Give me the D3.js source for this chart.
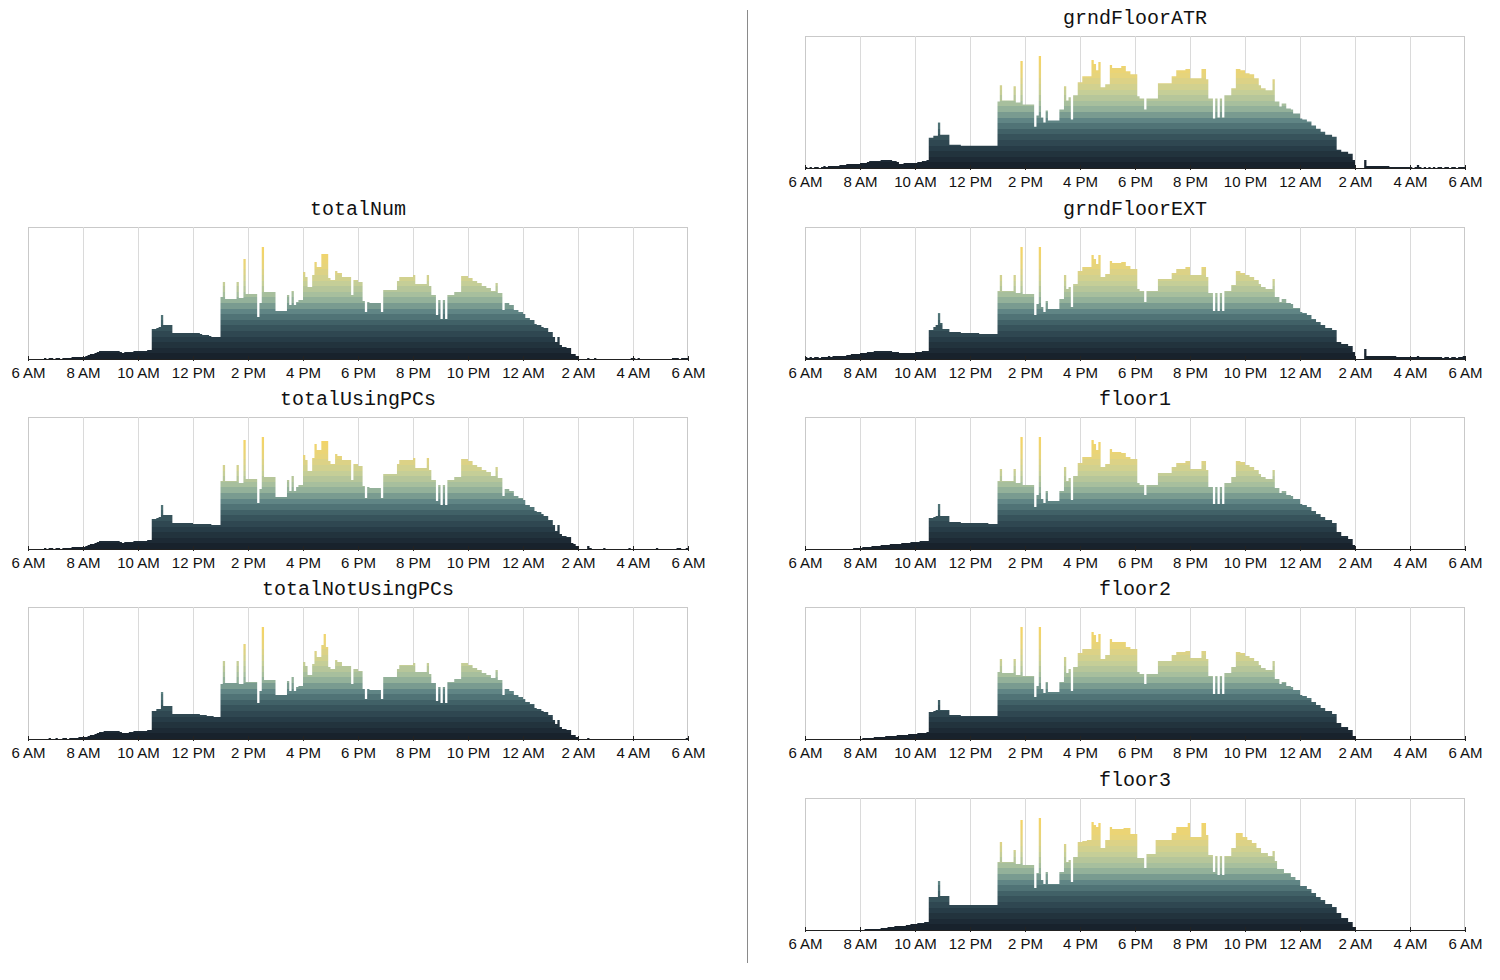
<!DOCTYPE html>
<html><head><meta charset="utf-8">
<script src="https://cdn.jsdelivr.net/npm/d3@7"></script>
<style>
html,body{margin:0;padding:0;background:#fff;}
svg{display:block;}
</style></head>
<body>
<svg id="chart" width="1500" height="980"></svg>
<script>
// ---- DATA (5-minute bins from 6 AM to 6 AM, 288 values per series) ----
const categories = ["totalNum","totalUsingPCs","totalNotUsingPCs","grndFloorATR","grndFloorEXT","floor1","floor2","floor3"];
const tickLabels = ["6 AM","8 AM","10 AM","12 PM","2 PM","4 PM","6 PM","8 PM","10 PM","12 AM","2 AM","4 AM","6 AM"];

const totalNum = [
0,0,0,0,0,0,0,1,0,1,1,0,1,1,0,1,1,1,1,2,2,2,2,2,
2,3,4,5,5,6,7,8,8,8,8,8,8,8,8,8,7,6,7,7,7,7,8,8,
8,8,8,8,9,9,30,30,31,32,44,34,34,34,34,26,26,26,26,26,26,26,26,26,
26,26,26,25,24,24,24,23,22,22,22,22,62,77,60,60,60,60,60,77,61,61,100,65,
65,65,65,65,42,56,112,67,67,67,67,67,48,48,48,48,48,64,54,68,54,57,59,59,
87,82,72,72,84,97,92,92,105,105,105,81,79,79,88,86,86,82,82,82,82,64,79,79,
77,77,58,47,57,56,56,56,56,56,47,69,69,69,69,69,69,78,82,82,82,82,82,82,
84,75,75,75,75,75,84,73,64,64,44,59,40,59,40,64,64,64,67,67,67,83,83,83,
81,81,78,78,76,76,73,73,71,71,68,68,76,66,66,49,56,56,54,54,49,49,47,47,
45,41,41,39,39,35,34,34,32,31,31,27,27,22,17,22,14,12,12,11,11,5,5,3,
0,0,0,0,1,0,0,1,0,0,0,0,0,0,0,0,0,0,0,0,0,0,0,1,
1,0,1,0,0,0,0,0,0,0,0,0,0,0,0,0,0,1,1,1,0,1,1,1];

const totalUsingPCs = [
0,0,0,0,0,0,0,1,0,1,1,0,1,1,0,1,1,1,1,2,2,2,2,2,
2,3,4,5,5,6,7,8,8,8,8,8,8,8,8,8,7,6,7,7,7,7,8,8,
8,8,8,8,9,9,30,30,31,32,44,34,34,34,34,26,26,26,26,26,26,26,26,26,
25,25,25,25,25,25,25,25,24,24,24,24,68,84,68,68,68,68,68,84,66,66,109,70,
70,70,70,70,46,60,112,72,72,72,72,72,52,52,52,52,52,69,58,73,58,62,64,64,
94,89,78,78,91,105,99,99,108,108,108,88,85,85,95,93,93,89,89,89,89,69,85,85,
83,83,63,51,62,61,61,61,61,61,51,75,75,75,75,75,75,85,89,89,89,89,89,89,
91,81,81,81,81,81,91,79,69,69,48,64,44,64,44,69,69,69,72,72,72,90,90,90,
88,88,84,84,82,82,79,79,77,77,73,73,82,71,71,53,60,60,58,58,53,53,51,51,
49,44,44,42,42,38,37,37,35,33,33,29,29,24,18,24,15,13,13,12,12,6,5,3,
0,0,0,0,3,1,0,0,0,0,0,1,0,0,0,0,0,0,0,0,0,0,1,0,
0,0,0,0,0,0,0,0,0,0,1,0,0,0,0,0,0,0,0,1,1,0,0,1];

const totalNotUsingPCs = [
0,0,0,0,0,0,0,0,0,1,0,0,1,0,0,1,1,0,1,1,1,1,2,2,
2,2,3,4,4,5,6,7,7,8,8,8,8,8,8,8,7,6,6,6,7,7,8,8,
8,8,8,8,9,9,28,28,30,30,47,33,33,33,33,25,25,25,25,25,25,25,25,25,
25,25,25,24,24,24,23,23,23,22,22,22,55,78,56,56,56,56,56,78,55,55,95,57,
57,57,57,57,36,48,112,59,59,59,59,59,44,44,44,44,44,58,48,62,48,52,53,53,
77,73,64,64,75,88,82,82,94,105,92,72,70,70,79,77,77,73,73,73,73,55,70,70,
68,68,50,40,50,49,49,49,49,49,40,62,62,62,62,62,62,70,74,74,74,74,74,74,
76,67,67,67,67,67,76,65,56,56,38,52,36,52,36,57,57,57,60,60,60,76,76,76,
74,74,71,71,69,69,66,66,64,64,61,61,69,59,59,44,50,50,48,48,44,44,42,42,
40,37,37,35,35,31,30,30,28,27,27,24,24,19,15,19,12,10,10,9,9,4,4,2,
0,0,0,0,1,0,0,0,0,0,0,0,0,0,0,0,0,0,0,0,0,0,0,0,
0,0,0,0,0,0,0,0,0,0,0,0,0,0,0,0,0,0,0,0,0,0,0,1];

const grndFloorATR = [
1,0,1,0,1,1,0,1,2,1,2,2,2,2,2,3,3,3,4,4,4,4,4,4,
5,5,5,6,7,7,7,7,7,8,8,8,8,8,7,7,6,4,4,5,5,5,5,5,
5,6,6,7,7,8,30,30,32,32,45,33,33,33,33,23,23,23,23,23,22,22,22,22,
22,22,22,22,22,22,22,22,22,22,22,22,66,82,67,67,67,67,67,81,65,65,106,63,
63,63,63,63,41,52,111,50,45,57,47,47,47,47,47,58,58,81,67,70,48,72,72,85,
85,91,91,91,91,107,103,97,105,80,80,83,83,102,99,99,99,99,101,101,96,96,93,93,
93,71,69,69,58,69,69,69,69,69,84,84,84,84,84,84,91,91,97,97,97,97,98,98,
89,89,89,89,89,98,98,88,69,69,49,69,50,69,50,72,72,72,79,79,98,98,97,97,
94,94,93,93,89,89,82,79,79,77,77,77,88,66,66,61,64,64,59,59,58,54,54,54,
49,48,48,46,46,42,42,39,39,36,36,33,33,33,31,31,18,18,16,16,16,14,14,8,
0,0,0,0,8,2,2,2,2,2,2,2,2,2,2,1,1,1,1,1,1,1,1,1,
1,0,1,3,1,0,1,0,1,0,1,0,1,1,0,1,1,0,1,1,0,1,1,1];

const grndFloorEXT = [
2,1,2,1,2,2,1,2,2,2,3,2,3,3,3,3,3,3,4,4,5,5,5,5,
6,6,6,7,7,7,8,8,8,8,8,8,8,8,7,7,7,6,6,6,6,6,6,6,
7,7,7,8,8,8,29,29,32,34,46,36,30,30,30,27,27,27,27,27,26,26,26,26,
26,26,26,26,25,25,25,25,25,25,25,25,68,84,68,68,68,68,68,84,66,66,112,65,
65,65,65,65,44,55,112,52,47,58,50,50,50,50,50,60,60,84,70,72,52,75,75,88,
88,92,92,92,92,104,100,95,104,82,82,85,85,98,96,96,96,96,97,97,93,93,90,90,
90,70,68,68,57,68,68,68,68,68,80,80,80,80,80,80,86,86,90,90,90,90,92,92,
84,84,84,84,84,92,92,82,66,66,48,66,48,66,48,68,68,68,74,74,88,88,86,86,
84,84,82,82,79,79,75,72,72,70,70,70,80,62,62,57,60,60,56,56,55,51,51,51,
47,46,46,44,44,40,40,37,37,34,34,31,31,31,29,29,17,17,15,15,15,13,13,7,
0,0,0,0,10,3,3,3,3,3,3,3,3,3,3,3,3,3,2,2,2,2,2,2,
2,2,2,3,2,2,2,2,2,2,2,2,2,2,1,2,2,1,2,2,1,2,2,3];

const floor1 = [
0,0,0,0,0,0,0,0,0,0,0,0,0,0,0,0,0,0,0,0,0,1,1,1,
1,2,2,2,2,3,3,3,3,4,4,4,4,5,5,5,5,5,6,6,6,6,7,7,
7,7,8,8,8,8,31,31,32,33,45,33,33,33,33,27,27,27,27,27,26,26,26,26,
26,26,26,26,26,26,26,26,25,25,25,25,68,80,68,68,68,68,68,80,66,66,112,64,
64,64,64,64,42,54,112,50,46,58,48,48,48,48,48,58,58,82,68,71,49,73,73,86,
86,92,92,92,92,109,105,99,107,82,82,85,85,100,97,97,97,97,96,96,92,92,90,90,
90,66,64,64,54,64,64,64,64,64,76,76,76,76,76,76,82,82,86,86,86,86,88,88,
80,80,80,80,80,88,88,79,62,62,45,62,45,62,45,66,66,66,72,72,88,88,87,87,
84,84,82,82,79,79,75,72,72,70,70,70,79,61,61,56,58,58,54,54,53,50,50,50,
45,44,44,42,42,38,38,35,35,32,32,29,29,29,26,26,17,17,13,13,13,10,10,4,
0,0,0,0,0,0,0,0,0,0,0,0,0,0,0,0,0,0,0,0,0,0,0,0,
0,0,0,0,0,0,0,0,0,0,0,0,0,0,0,0,0,0,0,0,0,0,0,0];

const floor2 = [
0,0,0,0,0,0,0,0,0,0,0,0,0,0,0,0,0,0,0,0,0,0,0,0,
0,1,1,1,1,1,2,2,2,2,2,3,3,3,3,3,4,4,4,4,4,5,5,5,
5,6,6,6,6,7,27,27,28,29,39,29,29,29,29,24,24,24,24,24,23,23,23,23,
23,23,23,23,23,23,23,23,23,23,23,23,67,80,66,66,66,66,66,80,64,64,112,63,
63,63,63,63,42,53,112,50,46,57,47,47,47,47,47,57,57,82,66,70,48,72,72,86,
86,90,90,90,90,107,104,97,105,80,80,84,84,100,97,97,97,97,97,97,92,92,90,90,
90,67,65,65,55,65,65,65,65,65,78,78,78,78,78,78,84,84,87,87,87,87,88,88,
81,81,81,81,81,88,88,80,63,63,45,63,45,63,45,66,66,66,72,72,87,87,86,86,
83,83,81,81,78,78,74,71,71,69,69,69,78,60,60,55,57,57,53,53,52,49,49,49,
44,43,43,41,41,37,37,34,34,31,31,28,28,28,25,25,16,16,12,12,12,9,9,3,
0,0,0,0,0,0,0,0,0,0,0,0,0,0,0,0,0,0,0,0,0,0,0,0,
0,0,0,0,0,0,0,0,0,0,0,0,0,0,0,0,0,0,0,0,0,0,0,0];

const floor3 = [
0,0,0,0,0,0,0,0,0,0,0,0,0,0,0,0,0,0,0,0,0,0,0,0,
0,0,1,1,1,1,1,1,1,2,2,2,3,3,3,4,4,4,4,4,5,5,6,6,
6,7,7,7,8,8,33,33,33,33,49,34,34,34,34,25,25,25,25,25,25,25,25,25,
25,25,25,25,25,25,25,25,25,25,25,25,68,88,68,68,68,68,68,80,66,66,110,65,
65,65,65,65,42,57,112,50,46,58,46,46,46,46,46,58,58,86,68,70,48,73,73,88,
88,89,89,90,90,108,105,103,107,82,82,90,90,103,101,101,101,101,101,102,102,102,96,96,
96,72,72,72,62,76,76,76,76,90,90,90,90,90,90,90,97,97,103,103,103,103,103,107,
93,93,93,93,93,107,107,95,75,75,58,74,55,74,55,74,74,74,82,82,97,97,97,93,
93,90,90,87,87,82,82,77,77,77,74,74,79,69,61,61,61,57,57,57,53,53,50,50,
44,44,44,41,41,37,37,33,33,30,30,26,26,26,23,23,17,17,12,12,12,8,8,3,
0,0,0,0,0,0,0,0,0,0,0,0,0,0,0,0,0,0,0,0,0,0,0,0,
0,0,0,0,0,0,0,0,0,0,0,0,0,0,0,0,0,0,0,0,0,0,0,0];

const seriesValues = [totalNum, totalUsingPCs, totalNotUsingPCs, grndFloorATR, grndFloorEXT, floor1, floor2, floor3];

// ---- LAYOUT ----
const PW = 660, PH = 132;
const layout = [
  {x: 28,  y: 227}, {x: 28,  y: 417}, {x: 28,  y: 607},
  {x: 805, y: 36},  {x: 805, y: 227}, {x: 805, y: 417}, {x: 805, y: 607}, {x: 805, y: 798}
];

const svg = d3.select("#chart");
svg.append("rect").attr("width",1500).attr("height",980).attr("fill","#fff");

// separator
svg.append("line").attr("x1",747.5).attr("x2",747.5).attr("y1",10).attr("y2",963)
  .attr("stroke","#8a8a8a").attr("stroke-width",1);

const t0 = new Date(2014, 2, 3, 6, 0, 0);
const t1 = d3.timeHour.offset(t0, 24);
const x = d3.scaleTime().domain([t0, t1]).range([0, PW]);
const tickTimes = d3.timeHour.every(2).range(t0, d3.timeMinute.offset(t1, 1));

const colorScale = d3.scaleLinear()
  .domain([0, 0.15, 0.3, 0.42, 0.55, 0.7, 0.85, 1])
  .range(["#18222c", "#263a45", "#3d5c63", "#5f8585", "#9fbb9f", "#c9d096", "#e8d47a", "#f3d468"])
  .interpolate(d3.interpolateLab);
const NB = 20;

const defs = svg.append("defs");

categories.forEach((name, i) => {
  const vals = seriesValues[i];
  const L = layout[i];
  const vmax = d3.max(vals);
  const y = d3.scaleLinear().domain([0, vmax * PH / 112]).range([PH, 0]);

  const g = svg.append("g").attr("transform", `translate(${L.x},${L.y})`);

  // gradient banded by value
  const grad = defs.append("linearGradient").attr("id", "grad" + i)
    .attr("gradientUnits", "userSpaceOnUse")
    .attr("x1", 0).attr("x2", 0).attr("y1", y(0)).attr("y2", y(vmax));
  for (let k = 0; k < NB; k++) {
    const c = colorScale(k / (NB - 1));
    grad.append("stop").attr("offset", k / NB).attr("stop-color", c);
    grad.append("stop").attr("offset", (k + 1) / NB).attr("stop-color", c);
  }

  // frame
  g.append("rect").attr("x", 0.5).attr("y", 0.5).attr("width", PW - 1).attr("height", PH)
    .attr("fill", "none").attr("stroke", "#c9c9c9").attr("stroke-width", 1);

  // gridlines
  g.selectAll("line.grid").data(tickTimes.slice(1, -1)).join("line")
    .attr("class", "grid")
    .attr("x1", d => Math.round(x(d)) + 0.5).attr("x2", d => Math.round(x(d)) + 0.5)
    .attr("y1", 0).attr("y2", PH)
    .attr("stroke", "#dadada").attr("stroke-width", 1);

  // bars as step area
  const pts = vals.map((v, j) => ({t: d3.timeMinute.offset(t0, 5 * j), v}));
  pts.push({t: t1, v: vals[vals.length - 1]});
  const area = d3.area()
    .x(d => x(d.t)).y0(y(0)).y1(d => y(d.v))
    .curve(d3.curveStepAfter);
  g.append("path").datum(pts).attr("d", area).attr("fill", `url(#grad${i})`);

  // axis
  const axis = d3.axisBottom(x).tickValues(tickTimes)
    .tickFormat((d, k) => tickLabels[k]).tickSizeInner(3).tickSizeOuter(0).tickPadding(6);
  const ax = g.append("g").attr("transform", `translate(0,${PH})`).call(axis);
  ax.select(".domain").attr("stroke", "#222").attr("stroke-width", 1);
  ax.selectAll(".tick line").attr("y1", -3).attr("y2", 2).attr("stroke", "#222");
  ax.selectAll(".tick text").attr("font-family", "'Liberation Sans', Arial, sans-serif")
    .attr("font-size", 15).attr("fill", "#111").attr("y", 8);

  // title
  g.append("text").attr("x", PW / 2).attr("y", -12).attr("text-anchor", "middle")
    .attr("font-family", "'Liberation Mono', 'Courier New', monospace")
    .attr("font-size", 20).attr("fill", "#111").text(name);
});
</script>
</body></html>
